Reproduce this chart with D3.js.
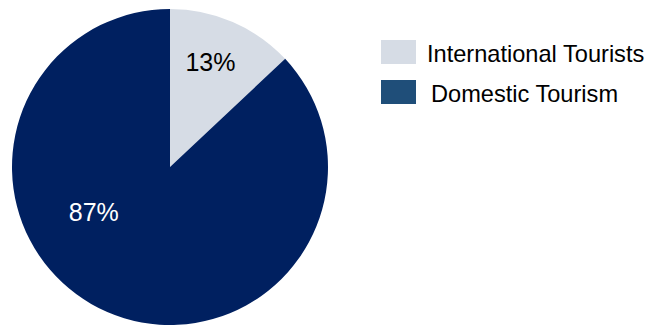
<!DOCTYPE html>
<html>
<head>
<meta charset="utf-8">
<script src="https://cdn.jsdelivr.net/npm/d3@7"></script>
<style>
  body { margin: 0; background: #fff; }
  text { font-family: Arial, "Liberation Sans", sans-serif; }
</style>
</head>
<body>
<svg id="chart" width="648" height="325"></svg>
<script>
const categories = ["International Tourists", "Domestic Tourism"];
const values = [13, 87];
const sliceColors = ["#d6dce5", "#002060"];
const legendColors = ["#d6dce5", "#1f4e79"];
const labelColors = ["#000", "#fff"];

const svg = d3.select("#chart");
const cx = 170, cy = 167, radius = 158;

const pie = d3.pie().sort(null).value(d => d)(values);
const arc = d3.arc().innerRadius(0).outerRadius(radius);

const g = svg.append("g").attr("transform", `translate(${cx},${cy})`);

g.selectAll("path.slice")
  .data(pie)
  .enter().append("path")
  .attr("class", "slice")
  .attr("d", arc)
  .attr("fill", (d, i) => sliceColors[i]);

// label placement: Excel puts them a bit off the mid angle
const labelRadius = [0.71, 0.56];
const labelAngleShift = [-0.04, 0.63];
g.selectAll("text.lbl")
  .data(pie)
  .enter().append("text")
  .attr("class", "lbl")
  .attr("text-anchor", "middle")
  .attr("dominant-baseline", "central")
  .style("font-size", "25px")
  .attr("fill", (d, i) => labelColors[i])
  .attr("x", (d, i) => {
    const a = (d.startAngle + d.endAngle) / 2 + labelAngleShift[i];
    return Math.sin(a) * radius * labelRadius[i];
  })
  .attr("y", (d, i) => {
    const a = (d.startAngle + d.endAngle) / 2 + labelAngleShift[i];
    return -Math.cos(a) * radius * labelRadius[i];
  })
  .text(d => d.data + "%");

// legend
const legend = svg.append("g").attr("transform", "translate(381,40)");
const item = legend.selectAll("g")
  .data(categories)
  .enter().append("g")
  .attr("transform", (d, i) => `translate(0,${i * 40})`);

item.append("rect")
  .attr("width", 35)
  .attr("height", 24)
  .attr("fill", (d, i) => legendColors[i]);

item.append("text")
  .attr("x", (d, i) => i === 0 ? 46 : 50)
  .attr("y", 22)
  .style("font-size", "23.6px")
  .attr("fill", "#000")
  .text(d => d);
</script>
</body>
</html>
